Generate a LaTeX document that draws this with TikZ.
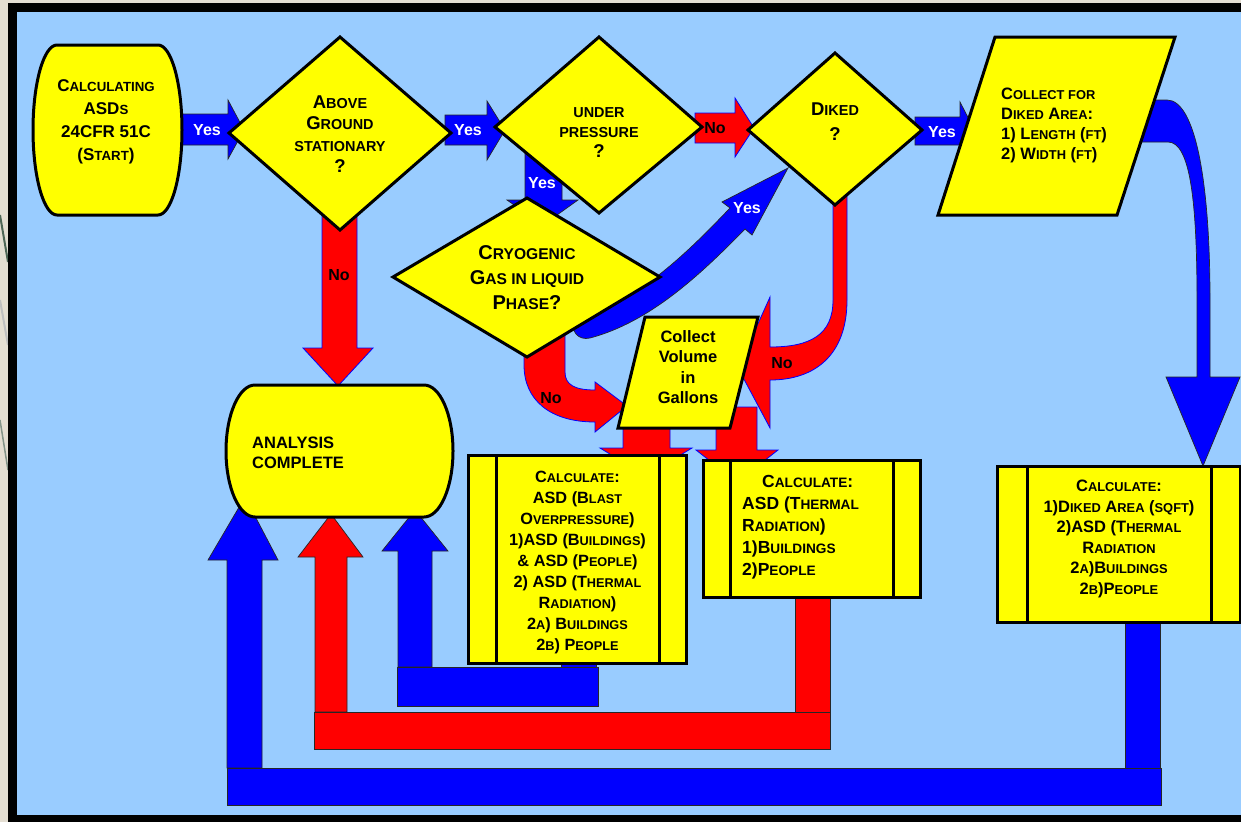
\documentclass[tikz,border=0pt]{standalone}
\usepackage{fontspec}
\setmainfont{Liberation Sans}
\makeatletter
\newcommand\smc[1]{{\fontsize{\strip@pt\dimexpr0.78\dimexpr\f@size pt\relax\relax}{\f@baselineskip}\selectfont #1}}
\makeatother
\definecolor{bgblue}{HTML}{99CCFF}
\definecolor{ylw}{HTML}{FFFF00}
\definecolor{bblue}{HTML}{0000FF}
\definecolor{rred}{HTML}{FF0000}
\definecolor{beige}{HTML}{E4DED2}
\definecolor{slate}{HTML}{4F6656}
\tikzset{
 shp/.style={draw=black, line width=3pt, fill=ylw, line join=miter},
 barr/.style={fill=bblue, draw=black!85, line width=0.7pt},
 rarr/.style={fill=rred, draw=bblue, line width=0.8pt},
 txt/.style 2 args={font=\fontsize{#1}{#2}\selectfont\bfseries, align=center, inner sep=0pt, text=black},
 yeslbl/.style={font=\fontsize{16}{18}\selectfont\bfseries, text=white, inner sep=0pt},
 nolbl/.style={font=\fontsize{16}{18}\selectfont\bfseries, text=black, inner sep=0pt},
}
\begin{document}
\begin{tikzpicture}[x=1pt,y=-1pt]
\useasboundingbox (0,0) rectangle (1241,822);
\fill[beige] (0,0) rectangle (1241,822);
\draw[slate, line width=2pt] (0,215) -- (8,262);
\draw[black!25, line width=2pt] (0,300) -- (8,345);
\draw[slate!70, line width=1.5pt] (0,420) -- (8,470);
\fill[black] (8,3) rectangle (1245,822);
\fill[bgblue] (17,12) rectangle (1245,815);

% ---------- arrows (behind shapes) ----------
% Yes: start -> above ground
\fill[barr] (180,114) -- (228,114) -- (228,100) -- (244,130) -- (228,159) -- (228,145) -- (180,145) -- cycle;
% Yes: above ground -> under pressure
\fill[barr] (445,115) -- (487,115) -- (487,101) -- (505,130) -- (487,160) -- (487,145) -- (445,145) -- cycle;
% No: under pressure -> diked
\fill[rarr] (695,113) -- (735,113) -- (735,98) -- (754,128) -- (735,157) -- (735,143) -- (695,143) -- cycle;
% Yes: diked -> collect diked area
\fill[barr] (915,117) -- (960,117) -- (960,102) -- (975,131) -- (960,160) -- (960,145) -- (915,145) -- cycle;
% Yes: under pressure -> cryogenic
\fill[barr] (525,140) -- (562,140) -- (562,200) -- (578,200) -- (543,225) -- (507,200) -- (525,200) -- cycle;
% No: above ground -> analysis complete
\fill[rarr] (322,200) -- (357,200) -- (357,348) -- (373,348) -- (338,386) -- (303,348) -- (322,348) -- cycle;
% Yes: cryogenic -> diked (curved)
\fill[barr] (575,322) .. controls (640,300) and (690,250) .. (730,208) -- (722,202) -- (788,168) -- (752,235) -- (745,229) .. controls (700,275) and (650,322) .. (590,338) .. controls (578,341) and (570,330) .. (575,322) -- cycle;
% No: cryogenic -> collect volume
\fill[rarr] (524,335) -- (565,335) -- (565,372) .. controls (565,385) and (575,390) .. (595,390) -- (595,382) -- (627,406) -- (595,432) -- (595,422) .. controls (550,422) and (524,400) .. (524,365) -- cycle;
% No: diked -> collect volume
\fill[rarr] (833,195) -- (847,195) -- (847,300) .. controls (847,355) and (815,380) .. (770,380) -- (770,428) -- (738,368) -- (770,297) -- (770,347) .. controls (810,347) and (833,335) .. (833,300) -- cycle;
% collect volume -> calc 1
\fill[rarr] (623,420) -- (670,420) -- (670,448) -- (692,448) -- (646,476) -- (600,448) -- (623,448) -- cycle;
% collect volume -> calc 2
\fill[rarr] (716,407) -- (757,407) -- (757,450) -- (778,450) -- (737,482) -- (696,450) -- (716,450) -- cycle;
% collect diked area -> calc 3 (curved)
\fill[barr] (1125,100) -- (1167,100) .. controls (1195,100) and (1210,180) .. (1210,300) -- (1210,377) -- (1240,377) -- (1203,466) -- (1166,377) -- (1197,377) -- (1197,300) .. controls (1197,200) and (1190,142) .. (1168,142) -- (1125,142) -- cycle;

% return paths to analysis complete
\fill[barr] (227,768) -- (227,560) -- (208,560) -- (245,497) -- (278,560) -- (262,560) -- (262,768) -- cycle;
\fill[barr] (1125,615) rectangle (1160,768);
\fill[barr] (227,768) rectangle (1161,805);
\fill[rarr, draw=black!85, line width=0.7pt] (315,712) -- (315,557) -- (298,557) -- (331,514) -- (363,557) -- (347,557) -- (347,712) -- cycle;
\fill[rarr, draw=black!85, line width=0.7pt] (795,590) rectangle (830,712);
\fill[rarr, draw=black!85, line width=0.7pt] (314,712) rectangle (830,749);
\fill[barr] (398,667) -- (398,551) -- (382,551) -- (415,510) -- (448,551) -- (432,551) -- (432,667) -- cycle;
\fill[barr] (561,655) rectangle (596,667);
\fill[barr] (397,667) rectangle (598,706);

% ---------- shapes ----------
% start
\draw[shp] (57,45) -- (158,45) arc[start angle=-90, end angle=90, x radius=24, y radius=85] -- (57,215) arc[start angle=90, end angle=270, x radius=24, y radius=85] -- cycle;
\node[txt={17}{23}] (start) at (106,122) {C\smc{ALCULATING}\\ASD\smc{S}\\24CFR 51C\\(S\smc{TART})};

% above ground
\draw[shp] (340,37) -- (451,133) -- (340,230) -- (229,133) -- cycle;
\node[txt={18.5}{21.5}] (above) at (340,134) {A\smc{BOVE}\\G\smc{ROUND}\\\smc{STATIONARY}\\?};

% under pressure
\draw[shp] (599,37) -- (702,127) -- (599,213) -- (495,127) -- cycle;
\node[txt={18.5}{20}] (press) at (599,133) {\smc{UNDER}\\\smc{PRESSURE}\\?};

% diked
\draw[shp] (835,53) -- (922,130) -- (835,205) -- (748,130) -- cycle;
\node[txt={18.5}{25}] (diked) at (835,122) {D\smc{IKED}\\?};

% collect for diked area
\draw[shp] (995,37) -- (1175,37) -- (1117,215) -- (938,215) -- cycle;
\node[txt={16.5}{20}, align=left, anchor=west] (collect) at (1001,125) {C\smc{OLLECT FOR}\\D\smc{IKED} A\smc{REA}:\\1) L\smc{ENGTH} (\smc{FT})\\2) W\smc{IDTH} (\smc{FT})};

% cryogenic
\draw[shp] (527,198) -- (660,277) -- (527,357) -- (393,277) -- cycle;
\node[txt={20}{25}] (cryo) at (527,278) {C\smc{RYOGENIC}\\G\smc{AS IN LIQUID}\\P\smc{HASE}?};

% collect volume
\draw[shp] (645,317) -- (758,317) -- (730,428) -- (618,428) -- cycle;
\node[txt={16.5}{20.5}] (vol) at (688,367) {Collect\\Volume\\in\\Gallons};

% analysis complete
\draw[shp] (255,385) -- (424,385) arc[start angle=-90, end angle=90, x radius=29, y radius=66] -- (255,517) arc[start angle=90, end angle=270, x radius=29, y radius=66] -- cycle;
\node[txt={16.5}{20}, align=left, anchor=west] (done) at (252,453) {ANALYSIS\\COMPLETE};

% calculate 1
\draw[shp] (468,455) rectangle (686,663);
\draw[line width=3pt] (496,455) -- (496,663) (659,455) -- (659,663);
\node[txt={16.3}{21}] (calc1) at (577.5,562) {C\smc{ALCULATE}:\\ASD (B\smc{LAST}\\O\smc{VERPRESSURE})\\1)ASD (B\smc{UILDINGS})\\\& ASD (P\smc{EOPLE})\\2) ASD (T\smc{HERMAL}\\R\smc{ADIATION})\\2\smc{A}) B\smc{UILDINGS}\\2\smc{B}) P\smc{EOPLE}};

% calculate 2
\draw[shp] (703,460) rectangle (920,597);
\draw[line width=3pt] (730,460) -- (730,597) (893,460) -- (893,597);
\node[txt={17.5}{22}, align=left, anchor=west] (calc2) at (742,527) {\hspace*{20pt}C\smc{ALCULATE}:\\ASD (T\smc{HERMAL}\\R\smc{ADIATION})\\1)B\smc{UILDINGS}\\2)P\smc{EOPLE}};

% calculate 3
\draw[shp] (997,466) rectangle (1240,622);
\draw[line width=3pt] (1027,466) -- (1027,622) (1211,466) -- (1211,622);
\node[txt={16.5}{20.6}] (calc3) at (1119,539) {C\smc{ALCULATE}:\\1)D\smc{IKED} A\smc{REA} (\smc{SQFT})\\2)ASD (T\smc{HERMAL}\\R\smc{ADIATION}\\2\smc{A})B\smc{UILDINGS}\\2\smc{B})P\smc{EOPLE}};

% ---------- labels ----------
\node[yeslbl] (y1) at (207,130) {Yes};
\node[yeslbl] (y2) at (468,130) {Yes};
\node[nolbl] (n1) at (715,128) {No};
\node[yeslbl] (y3) at (942,132) {Yes};
\node[yeslbl] (y4) at (542,183) {Yes};
\node[yeslbl] (y5) at (747,208) {Yes};
\node[nolbl] (n2) at (339,275) {No};
\node[nolbl] (n3) at (551,398) {No};
\node[nolbl] (n4) at (782,363) {No};
\end{tikzpicture}
\end{document}
